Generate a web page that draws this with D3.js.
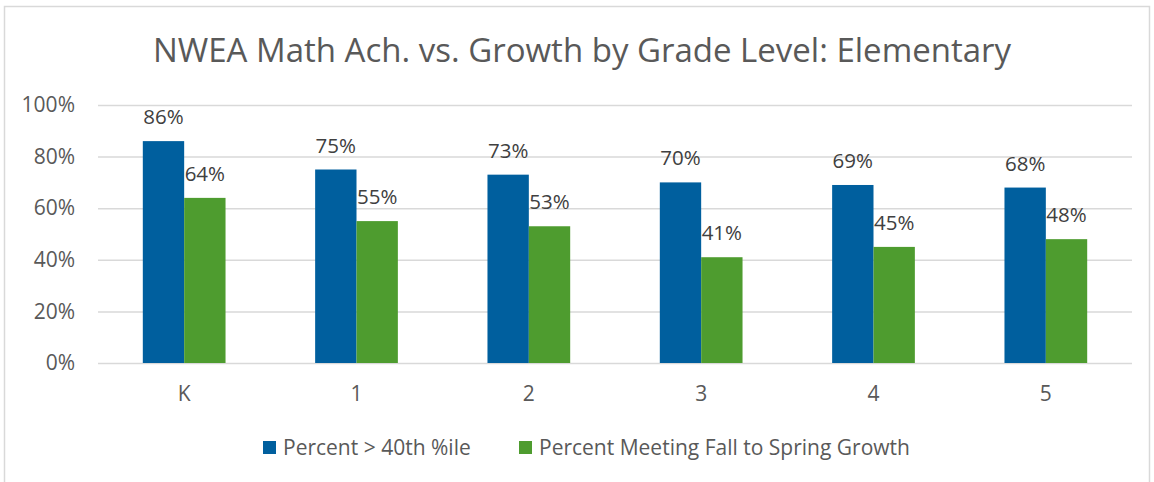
<!DOCTYPE html>
<html>
<head>
<meta charset="utf-8">
<script src="https://cdn.jsdelivr.net/npm/d3@7"></script>
<style>
  body { margin: 0; background: #fff; }
  svg { font-family: "Open Sans", sans-serif; }
</style>
</head>
<body>
<svg width="1154" height="482"></svg>
<script>
// chart data
const grades = ["K", "1", "2", "3", "4", "5"]
const pctAbove40 = [0.86, 0.75, 0.73, 0.70, 0.69, 0.68]
const pctGrowth = [0.64, 0.55, 0.53, 0.41, 0.45, 0.48]
const seriesNames = ["Percent > 40th %ile", "Percent Meeting Fall to Spring Growth"]
const yTicks = [0, 0.2, 0.4, 0.6, 0.8, 1.0]

const colors = ["#005f9e", "#4e9c2f"]

var svg = d3.select('svg')

// outer frame
svg.append('rect')
    .attr('x', 4.5).attr('y', 6.5)
    .attr('width', 1145).attr('height', 480)
    .attr('fill', 'none')
    .attr('stroke', '#d9d9d9')
    .attr('stroke-width', 1.5)

svg.append('text')
    .attr('x', 582).attr('y', 62)
    .attr('text-anchor', 'middle')
    .attr('font-size', 33)
    .attr('fill', '#595959')
    .text('NWEA Math Ach. vs. Growth by Grade Level: Elementary')

var x_scale = d3.scaleBand()
    .domain(grades)
    .range([98, 1132])
    .paddingInner(0.52)
    .paddingOuter(0.26)

var y_scale = d3.scaleLinear()
    .domain([0, 1])
    .range([363, 105])

// gridlines
var y_axis = d3.axisLeft(y_scale)
    .tickValues(yTicks)
    .tickSize(-(1132 - 98))
    .tickPadding(23)
    .tickFormat(d3.format('.0%'))

var yg = svg.append('g')
    .attr('transform', 'translate(98,0)')
    .call(y_axis)
yg.select('.domain').remove()
yg.selectAll('line').attr('stroke', '#d9d9d9').attr('stroke-width', 1.5)
yg.selectAll('text').attr('font-size', 21).attr('fill', '#595959')
    .attr('font-family', '"Open Sans", sans-serif')

var x_axis = d3.axisBottom(x_scale).tickSize(0).tickPadding(23)
var xg = svg.append('g')
    .attr('transform', 'translate(0,363)')
    .call(x_axis)
xg.select('.domain').remove()
xg.selectAll('text').attr('font-size', 21).attr('fill', '#595959')
    .attr('font-family', '"Open Sans", sans-serif')

var sub = d3.scaleBand()
    .domain([0, 1])
    .range([0, x_scale.bandwidth()])

var series = [pctAbove40, pctGrowth]

series.forEach(function (vals, si) {
    var g = svg.append('g')
    g.selectAll('rect')
        .data(vals)
        .enter()
        .append('rect')
        .attr('x', function (d, i) { return x_scale(grades[i]) + sub(si) })
        .attr('y', function (d) { return y_scale(d) })
        .attr('width', sub.bandwidth())
        .attr('height', function (d) { return y_scale(0) - y_scale(d) })
        .attr('fill', colors[si])

    g.selectAll('text')
        .data(vals)
        .enter()
        .append('text')
        .attr('x', function (d, i) { return x_scale(grades[i]) + sub(si) + sub.bandwidth() / 2 })
        .attr('y', function (d) { return y_scale(d) - 17 })
        .attr('text-anchor', 'middle')
        .attr('font-size', 20.5)
        .attr('fill', '#404040')
        .text(function (d) { return d3.format('.0%')(d) })
})

// legend
var legendX = [263, 519]
var lg = svg.selectAll('.legend')
    .data(seriesNames)
    .enter()
    .append('g')
    .attr('class', 'legend')
    .attr('transform', function (d, i) { return 'translate(' + legendX[i] + ',441)' })

lg.append('rect')
    .attr('width', 13).attr('height', 13)
    .attr('fill', function (d, i) { return colors[i] })

lg.append('text')
    .attr('x', 20).attr('y', 13.5)
    .attr('font-size', 21)
    .attr('fill', '#595959')
    .text(function (d) { return d })
</script>
</body>
</html>
